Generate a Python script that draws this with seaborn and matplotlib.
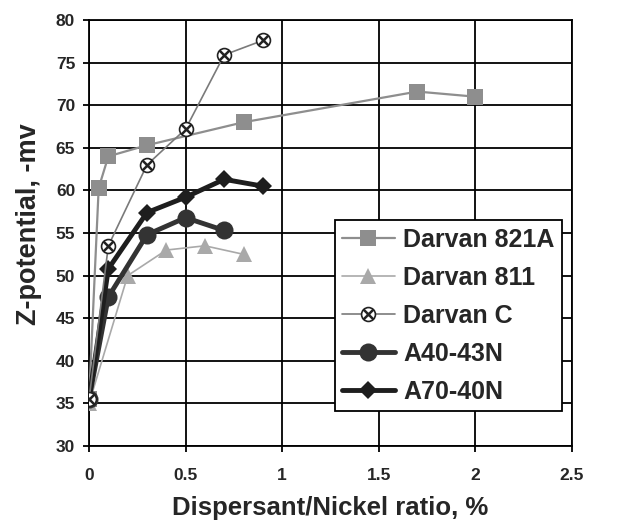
import pandas as pd
import matplotlib.pyplot as plt
import seaborn as sns

# values
x_821a = [0, 0.05, 0.1, 0.3, 0.8, 1.7, 2.0]
y_821a = [35.5, 60.3, 64.0, 65.3, 68.0, 71.6, 71.0]

x_811 = [0, 0.2, 0.4, 0.6, 0.8]
y_811 = [35.0, 50.0, 53.0, 53.5, 52.5]

x_c = [0, 0.1, 0.3, 0.5, 0.7, 0.9]
y_c = [35.5, 53.5, 63.0, 67.2, 75.9, 77.6]

x_a40 = [0, 0.1, 0.3, 0.5, 0.7]
y_a40 = [35.5, 47.5, 54.8, 56.8, 55.3]

x_a70 = [0, 0.1, 0.3, 0.5, 0.7, 0.9]
y_a70 = [35.5, 50.8, 57.4, 59.2, 61.3, 60.5]

labels = ['Darvan 821A', 'Darvan 811', 'Darvan C', 'A40-43N', 'A70-40N']

sns.set_style("white")
plt.rcParams['font.family'] = ['Liberation Sans', 'DejaVu Sans']
plt.rcParams['font.weight'] = 'bold'

fig = plt.figure(figsize=(6.36, 5.26), dpi=100)
ax = fig.add_axes([0.14, 0.152, 0.759, 0.810])

df821 = pd.DataFrame({'x': x_821a, 'y': y_821a})
df811 = pd.DataFrame({'x': x_811, 'y': y_811})
dfc = pd.DataFrame({'x': x_c, 'y': y_c})
df40 = pd.DataFrame({'x': x_a40, 'y': y_a40})
df70 = pd.DataFrame({'x': x_a70, 'y': y_a70})

sns.lineplot(data=df821, x='x', y='y', ax=ax, color='#8e8e8e', lw=1.6,
             marker='s', markersize=12, markeredgewidth=0, sort=False, zorder=3)
sns.lineplot(data=df811, x='x', y='y', ax=ax, color='#a9a9a9', lw=1.2,
             marker='^', markersize=12, markeredgewidth=0, sort=False, zorder=3)
sns.lineplot(data=dfc, x='x', y='y', ax=ax, color='#7a7a7a', lw=1.2,
             marker='o', markersize=10, markerfacecolor='white',
             markeredgecolor='#222222', markeredgewidth=1.2, sort=False, zorder=4)
ax.plot(x_c, y_c, ls='none', marker='x', markersize=6.5, markeredgecolor='#222222',
        markeredgewidth=1.8, zorder=5)
sns.lineplot(data=df40, x='x', y='y', ax=ax, color='#333333', lw=3.5,
             marker='o', markersize=13, markeredgewidth=0, sort=False, zorder=3)
sns.lineplot(data=df70, x='x', y='y', ax=ax, color='#1e1e1e', lw=3.5,
             marker='D', markersize=9, markeredgewidth=0, sort=False, zorder=3)

ax.set_xlim(0, 2.5)
ax.set_ylim(30, 80)
ax.set_xticks([0, 0.5, 1, 1.5, 2, 2.5])
ax.set_xticklabels(['0', '0.5', '1', '1.5', '2', '2.5'])
ax.set_yticks(range(30, 81, 5))
ax.grid(True, color='black', lw=1.3)
for s in ax.spines.values():
    s.set_color('black')
    s.set_linewidth(1.3)
ax.tick_params(axis='both', labelsize=12.5, length=4, color='black', width=1.3,
               direction='out', bottom=True, left=True)
ax.tick_params(axis='x', pad=12)
ax.tick_params(axis='y', pad=6)
for t in ax.get_xticklabels() + ax.get_yticklabels():
    t.set_fontweight('bold')

ax.set_xlabel('Dispersant/Nickel ratio, %', fontsize=18.5, fontweight='bold')
ax.set_ylabel('Z-potential, -mv', fontsize=19.5, fontweight='bold')
ax.xaxis.set_label_coords(0.5, -0.118)
ax.yaxis.set_label_coords(-0.098, 0.521)

# legend handles
h821 = plt.Line2D([], [], color='#8e8e8e', lw=1.6, marker='s', markersize=12, markeredgewidth=0)
h811 = plt.Line2D([], [], color='#a9a9a9', lw=1.2, marker='^', markersize=12, markeredgewidth=0)
hc1 = plt.Line2D([], [], color='#7a7a7a', lw=1.2, marker='o', markersize=10,
                 markerfacecolor='white', markeredgecolor='#222222', markeredgewidth=1.2)
hc2 = plt.Line2D([], [], ls='none', marker='x', markersize=6.5, markeredgecolor='#222222',
                 markeredgewidth=1.8)
h40 = plt.Line2D([], [], color='#333333', lw=3.5, marker='o', markersize=13, markeredgewidth=0)
h70 = plt.Line2D([], [], color='#1e1e1e', lw=3.5, marker='D', markersize=9, markeredgewidth=0)

leg = ax.legend([h821, h811, (hc1, hc2), h40, h70], labels,
                loc='upper left', bbox_to_anchor=(0.509, 0.530),
                prop={'weight': 'bold', 'size': 18},
                frameon=True, fancybox=False, framealpha=1,
                edgecolor='black', handlelength=2.1, labelspacing=0.56,
                borderpad=0.3, handletextpad=0.35, borderaxespad=0)
leg.get_frame().set_linewidth(1.3)

fig.savefig('out.png', dpi=100)
